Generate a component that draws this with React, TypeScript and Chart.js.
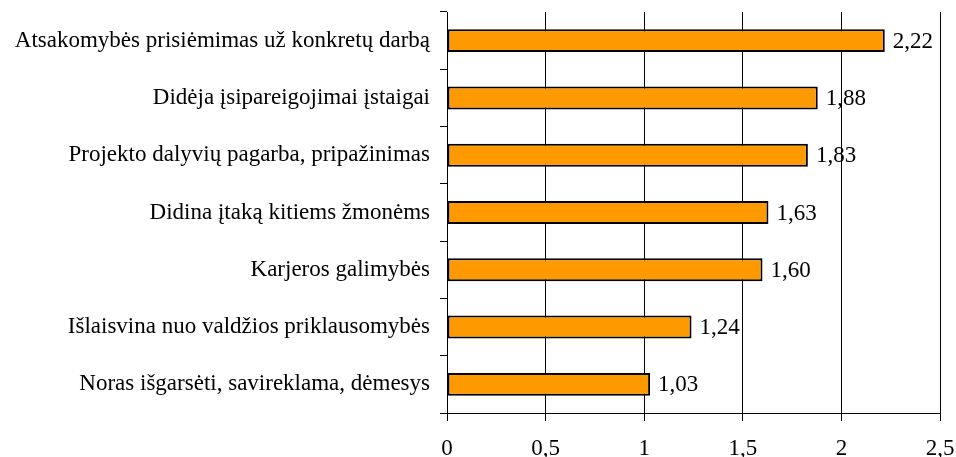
import React, { useEffect, useRef } from "react";
import { Chart, registerables } from "chart.js";

Chart.register(...registerables);

const categories = [
  "Atsakomybės prisiėmimas už konkretų darbą",
  "Didėja įsipareigojimai įstaigai",
  "Projekto dalyvių pagarba, pripažinimas",
  "Didina įtaką kitiems žmonėms",
  "Karjeros galimybės",
  "Išlaisvina nuo valdžios priklausomybės",
  "Noras išgarsėti, savireklama, dėmesys",
];
const values = [2.22, 1.88, 1.83, 1.63, 1.6, 1.24, 1.03];
const xTicks = [0, 0.5, 1, 1.5, 2, 2.5];
const xTickLabels = ["0", "0,5", "1", "1,5", "2", "2,5"];

const FONT = "'Liberation Serif', 'Times New Roman', serif";
const FS = 23;

const fmt = (v: number, d: number) => v.toFixed(d).replace(".", ",");

const textLabels = {
  id: "textLabels",
  afterDraw(chart: any) {
    const ctx = chart.ctx;
    const meta = chart.getDatasetMeta(0);
    const xs = chart.scales.x;
    ctx.save();
    ctx.font = `${FS}px ${FONT}`;
    ctx.fillStyle = "#000";
    ctx.textAlign = "left";
    ctx.textBaseline = "middle";
    meta.data.forEach((el: any, i: number) => {
      ctx.fillText(fmt(values[i], 2), el.x + 8, el.y + 1);
    });
    ctx.textAlign = "center";
    xTicks.forEach((v, i) => {
      ctx.fillText(xTickLabels[i], xs.getPixelForValue(v), chart.chartArea.bottom + 36);
    });
    ctx.restore();
  },
};

export default function App() {
  const ref = useRef<HTMLCanvasElement>(null);
  useEffect(() => {
    if (!ref.current) return;
    const chart = new Chart(ref.current, {
      type: "bar",
      data: {
        labels: categories,
        datasets: [
          {
            data: values,
            backgroundColor: "#FF9900",
            borderColor: "#000",
            borderWidth: 2,
            borderSkipped: false,
            barPercentage: 0.4,
            categoryPercentage: 1,
          },
        ],
      },
      options: {
        indexAxis: "y",
        animation: false,
        responsive: false,
        maintainAspectRatio: false,
        layout: { padding: { top: 12, right: 16, left: 0, bottom: 0 } },
        plugins: { legend: { display: false }, tooltip: { enabled: false } },
        scales: {
          x: {
            min: 0,
            max: 2.5,
            afterBuildTicks: (s: any) => {
              s.ticks = xTicks.map((v) => ({ value: v }));
            },
            afterFit: (s: any) => {
              s.height = 44;
              s.paddingLeft = 0;
              s.paddingRight = 0;
            },
            ticks: {
              display: false,
            },
            grid: {
              color: "#000",
              lineWidth: 1,
              tickLength: 8,
              drawTicks: true,
            },
            border: { color: "#000", width: 1 },
          },
          y: {
            afterFit: (s: any) => {
              s.width = 447;
              s.paddingTop = 0;
              s.paddingBottom = 0;
            },
            ticks: {
              color: "#000",
              font: { family: FONT, size: FS },
              padding: 10,
            },
            grid: {
              offset: true,
              drawOnChartArea: false,
              drawTicks: true,
              tickLength: 7,
              color: "#000",
            },
            border: { color: "#000", width: 1 },
          },
        },
      },
      plugins: [textLabels],
    });
    return () => chart.destroy();
  }, []);
  return (
    <div style={{ position: "fixed", left: 0, top: 0, width: 956, height: 457, background: "#fff" }}>
      <canvas ref={ref} width={956} height={457} style={{ width: 956, height: 457 }} />
    </div>
  );
}
